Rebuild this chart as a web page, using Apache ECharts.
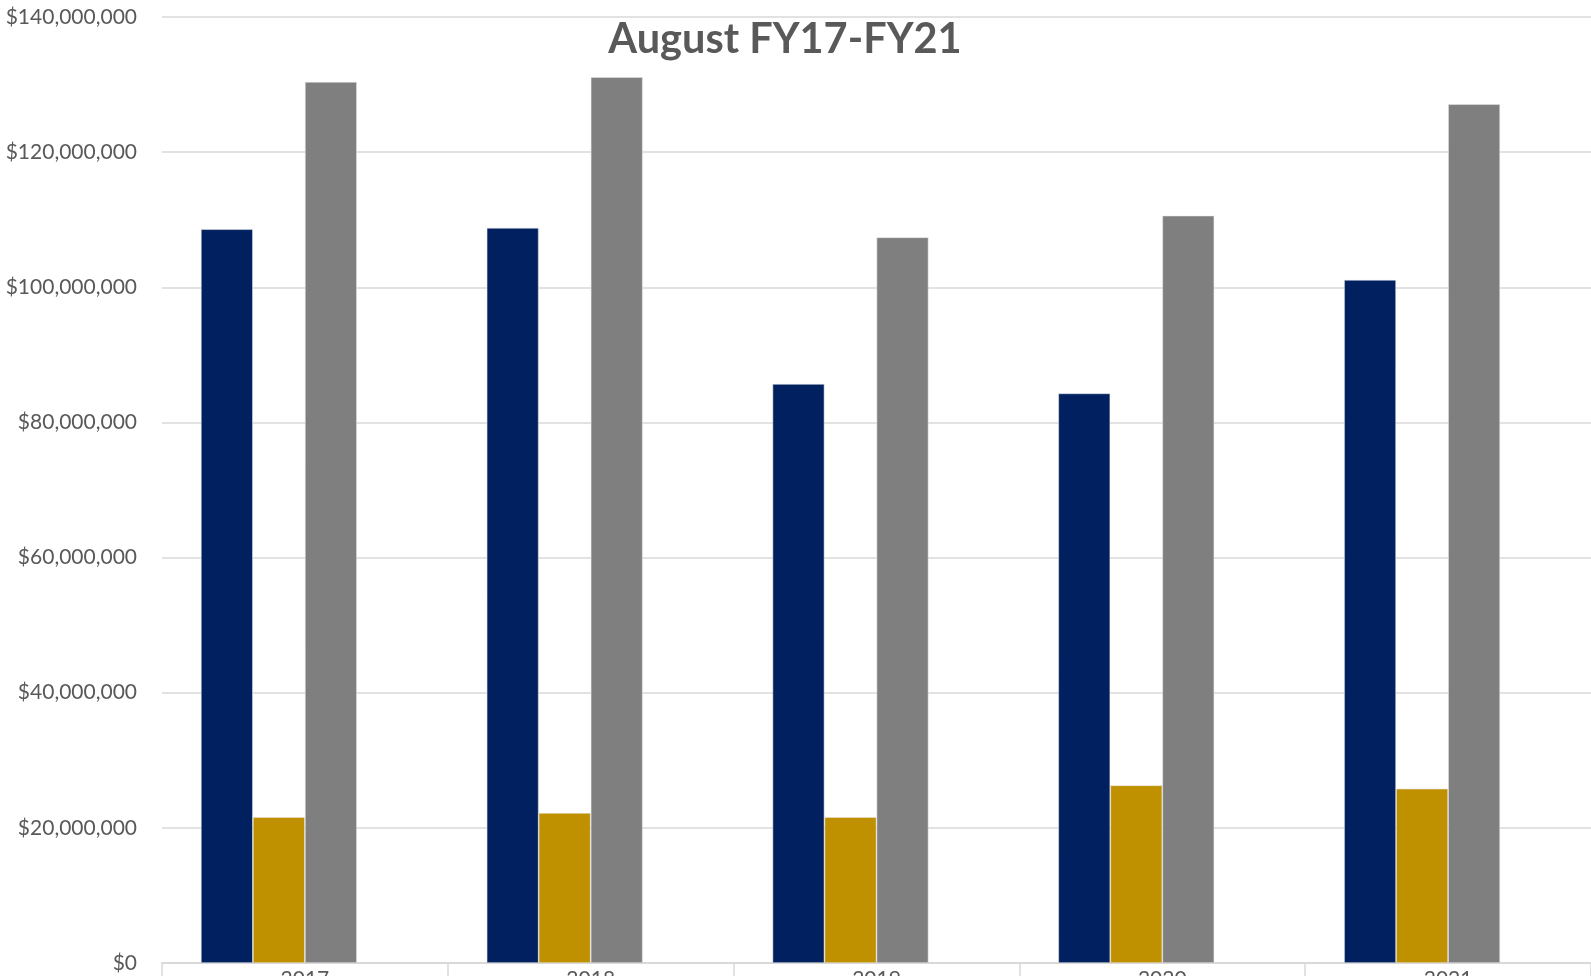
<!DOCTYPE html>
<html><head><meta charset="utf-8">
<script src="https://cdn.jsdelivr.net/npm/echarts@6/dist/echarts.min.js"></script>
<style>html,body{margin:0;padding:0;background:#fff}#c{width:1591px;height:976px}</style>
</head><body><div id="c"></div>
<script>
const categories = ['2017','2018','2019','2020','2021'];
const seriesA = [108.6e6, 108.8e6, 85.7e6, 84.3e6, 101.1e6];
const seriesB = [21.6e6, 22.2e6, 21.6e6, 26.3e6, 25.8e6];
const seriesTotal = [130.4e6, 131.1e6, 107.4e6, 110.6e6, 127.1e6];
const seriesEmpty = [null, null, null, null, null];
const titleText = 'August FY17-FY21';

const chart = echarts.init(document.getElementById('c'));
const fmt = v => '$' + Math.round(v).toLocaleString('en-US');
const barStyle = c => ({color: c, borderColor: 'rgba(230,230,230,0.7)', borderWidth: 0.75});
chart.setOption({
  animation: false,
  title: {text: titleText, left: 780, textAlign: 'center', top: 14,
    textStyle: {fontFamily: 'Lato', fontWeight: 'bold', fontSize: 41.5, color: '#595959'}},
  grid: {left: 162, right: 0, top: 17, bottom: 13, outerBoundsMode: 'none', containLabel: false},
  xAxis: {type: 'category', data: categories,
    axisLine: {lineStyle: {color: '#d9d9d9', width: 2}},
    axisTick: {show: true, length: 30, lineStyle: {color: '#d9d9d9', width: 1.5}},
    axisLabel: {color: '#595959', fontFamily: 'Lato', fontSize: 21, margin: 6}},
  yAxis: {type: 'value', min: 0, max: 140e6, interval: 20e6,
    axisLine: {show: false}, axisTick: {show: false},
    splitLine: {lineStyle: {color: '#d9d9d9', width: 1.5}},
    axisLabel: {formatter: fmt, color: '#595959', fontFamily: 'Lato', fontSize: 21, margin: 25}},
  series: [
    {type: 'bar', data: seriesA, itemStyle: barStyle('#002060'), barGap: '0%', barCategoryGap: '27.2%'},
    {type: 'bar', data: seriesB, itemStyle: barStyle('#BF9000')},
    {type: 'bar', data: seriesTotal, itemStyle: barStyle('#7F7F7F')},
    {type: 'bar', data: seriesEmpty, itemStyle: barStyle('#4472C4')}
  ]
});
</script></body></html>
